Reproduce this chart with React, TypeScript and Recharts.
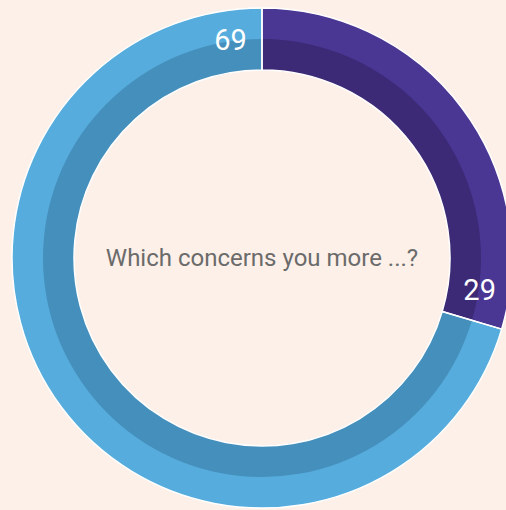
import { PieChart, Pie, Cell } from 'recharts'

const categories = ['A', 'B']
const values = [29, 69]
const outerColors = ['#4a3794', '#56acdc']
const innerColors = ['#3c2a76', '#458fbc']
const centerTitle = 'Which concerns you more ...?'

const data = categories.map((name, i) => ({ name, value: values[i] }))
const total = values.reduce((a, b) => a + b, 0)

const CX = 262
const CY = 258
const RAD = Math.PI / 180

function EndLabel(props: any) {
  const { index } = props
  const cum = values.slice(0, index + 1).reduce((a, b) => a + b, 0)
  // recharts angle convention: 90 at top, decreasing clockwise
  const end = 90 - (cum / total) * 360
  const ang = end + 8.2
  const r = 220
  const x = CX + r * Math.cos(ang * RAD)
  const y = CY - r * Math.sin(ang * RAD)
  return (
    <text
      x={x}
      y={y}
      fill="#ffffff"
      fontSize={29}
      fontFamily="Roboto, sans-serif"
      textAnchor="middle"
      dominantBaseline="central"
    >
      {values[index]}
    </text>
  )
}

export default function App() {
  return (
    <div style={{ position: 'fixed', left: 0, top: 0, width: 506, height: 510, background: '#fdf0e8' }}>
      <PieChart width={506} height={510} margin={{ top: 0, right: 0, bottom: 0, left: 0 }}>
        <Pie
          data={data}
          dataKey="value"
          cx={CX}
          cy={CY}
          startAngle={90}
          endAngle={-270}
          innerRadius={188}
          outerRadius={250}
          stroke="none"
          isAnimationActive={false}
        >
          {data.map((d, i) => (
            <Cell key={d.name} fill={outerColors[i]} />
          ))}
        </Pie>
        <Pie
          data={data}
          dataKey="value"
          cx={CX}
          cy={CY}
          startAngle={90}
          endAngle={-270}
          innerRadius={188}
          outerRadius={219}
          stroke="none"
          isAnimationActive={false}
        >
          {data.map((d, i) => (
            <Cell key={d.name} fill={innerColors[i]} />
          ))}
        </Pie>
        <Pie
          data={data}
          dataKey="value"
          cx={CX}
          cy={CY}
          startAngle={90}
          endAngle={-270}
          innerRadius={188}
          outerRadius={250}
          fill="none"
          stroke="#ffffff"
          strokeWidth={1.5}
          label={EndLabel}
          labelLine={false}
          isAnimationActive={false}
        >
          {data.map((d) => (
            <Cell key={d.name} fill="none" stroke="#ffffff" />
          ))}
        </Pie>
        <text
          x={CX}
          y={CY}
          textAnchor="middle"
          dominantBaseline="central"
          fill="#6b6b6b"
          fontSize={24}
          fontFamily="Roboto, sans-serif"
        >
          {centerTitle}
        </text>
      </PieChart>
    </div>
  )
}
